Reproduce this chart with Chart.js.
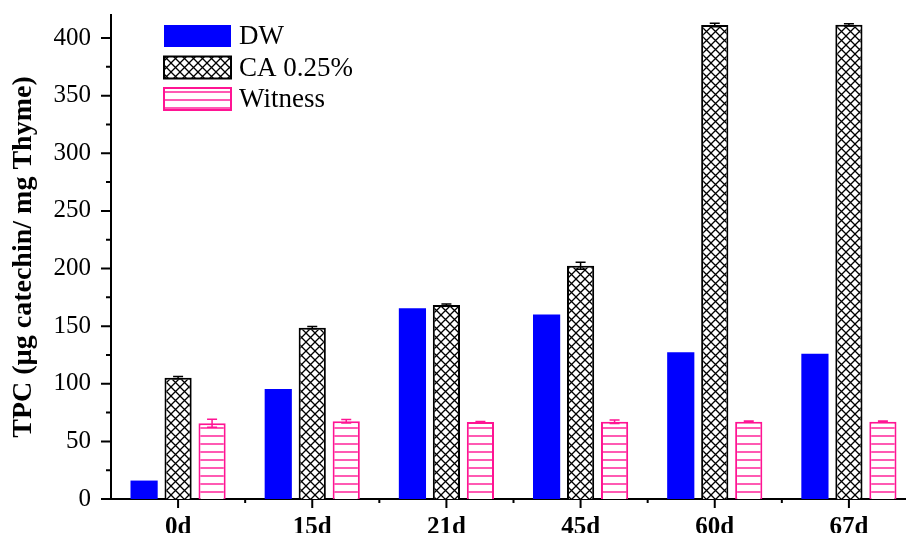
<!DOCTYPE html>
<html>
<head>
<meta charset="utf-8">
<script src="https://cdn.jsdelivr.net/npm/chart.js@4.4.0/dist/chart.umd.min.js"></script>
<style>
    html, body { margin: 0; padding: 0; background: #fff; overflow: hidden; }
    #wrap { position: absolute; left: 0; top: 0; width: 930px; height: 533px; }
</style>
</head>
<body>
<div id="wrap"><canvas id="chart"></canvas></div>
<script>
var categories = ['0d', '15d', '21d', '45d', '60d', '67d'];
var dwValues = [16, 95.4, 165.5, 160.2, 127.3, 126.1];
var caValues = [105.3, 148.7, 168.3, 202.4, 411.3, 411.5];
var caErrors = [1, 1, 1, 3, 1.5, 1];
var witnessValues = [65.7, 67.4, 66.8, 67.1, 67.1, 67.1];
var witnessErrors = [3.5, 1.5, 0.5, 1.5, 0.5, 0.5];
var yTicks = [0, 50, 100, 150, 200, 250, 300, 350, 400];

var SERIF = "'Liberation Serif', 'Times New Roman', serif";
var PINK = '#ff1493';

function crossPattern() {
    var c = document.createElement('canvas');
    c.width = 9;
    c.height = 9;
    var g = c.getContext('2d');
    g.fillStyle = '#fff';
    g.fillRect(0, 0, 9, 9);
    g.strokeStyle = '#000';
    g.lineWidth = 1.3;
    g.beginPath();
    g.moveTo(0, 0); g.lineTo(9, 9);
    g.moveTo(9, 0); g.lineTo(0, 9);
    g.stroke();
    return g.createPattern(c, 'repeat');
}

function stripePattern() {
    var c = document.createElement('canvas');
    c.width = 8;
    c.height = 8;
    var g = c.getContext('2d');
    g.fillStyle = '#fff';
    g.fillRect(0, 0, 8, 8);
    g.strokeStyle = PINK;
    g.lineWidth = 1.4;
    g.beginPath();
    g.moveTo(0, 4); g.lineTo(8, 4);
    g.stroke();
    return g.createPattern(c, 'repeat');
}

// error bars from the errors arrays, through the y scale
var errorBars = {
    id: 'errorBars',
    afterDatasetsDraw: function (chart) {
        var ctx = chart.ctx;
        var y = chart.scales.y;
        chart.data.datasets.forEach(function (ds, i) {
            if (!ds.errors) {
                return;
            }
            var meta = chart.getDatasetMeta(i);
            ctx.save();
            ctx.strokeStyle = ds.borderColor;
            ctx.lineWidth = 1.5;
            meta.data.forEach(function (bar, j) {
                var v = ds.data[j];
                var e = ds.errors[j];
                var top = y.getPixelForValue(v + e);
                var bot = y.getPixelForValue(v - e);
                ctx.beginPath();
                ctx.moveTo(bar.x, top); ctx.lineTo(bar.x, bot);
                ctx.moveTo(bar.x - 5, top); ctx.lineTo(bar.x + 5, top);
                ctx.moveTo(bar.x - 5, bot); ctx.lineTo(bar.x + 5, bot);
                ctx.stroke();
            });
            ctx.restore();
        });
    }
};

// outward tick marks, major and minor
var tickMarks = {
    id: 'tickMarks',
    afterDraw: function (chart) {
        var ctx = chart.ctx;
        var x = chart.scales.x;
        var y = chart.scales.y;
        var area = chart.chartArea;
        ctx.save();
        ctx.strokeStyle = '#000';
        ctx.lineWidth = 2;
        ctx.beginPath();
        yTicks.forEach(function (v) {
            var p = y.getPixelForValue(v);
            ctx.moveTo(area.left - 10, p); ctx.lineTo(area.left, p);
            if (v + 25 <= y.max) {
                var q = y.getPixelForValue(v + 25);
                ctx.moveTo(area.left - 5, q); ctx.lineTo(area.left, q);
            }
        });
        var step = (area.right - area.left) / categories.length;
        categories.forEach(function (c, i) {
            var p = x.getPixelForValue(i);
            ctx.moveTo(p, area.bottom); ctx.lineTo(p, area.bottom + 9);
            if (i > 0) {
                ctx.moveTo(area.left + step * i, area.bottom);
                ctx.lineTo(area.left + step * i, area.bottom + 4);
            }
        });
        ctx.stroke();
        ctx.restore();
    }
};

// legend inside the plot, top-left
var insideLegend = {
    id: 'insideLegend',
    afterDraw: function (chart) {
        var ctx = chart.ctx;
        ctx.save();
        ctx.font = '27px ' + SERIF;
        ctx.textBaseline = 'middle';
        chart.data.datasets.forEach(function (ds, i) {
            var top = 25 + i * 31.5;
            ctx.fillStyle = ds.backgroundColor;
            ctx.fillRect(164, top, 67, 22);
            if (ds.borderWidth) {
                ctx.strokeStyle = ds.borderColor;
                ctx.lineWidth = 2;
                ctx.strokeRect(164, top, 67, 22);
            }
            ctx.fillStyle = '#000';
            ctx.fillText(ds.label, 239, top + 12);
        });
        ctx.restore();
    }
};

var ctx = document.getElementById('chart').getContext('2d');
new Chart(ctx, {
    type: 'bar',
    data: {
        labels: categories,
        datasets: [
            {
                label: 'DW',
                data: dwValues,
                backgroundColor: '#0000ff',
                borderColor: '#0000ff',
                borderWidth: 0
            },
            {
                label: 'CA 0.25%',
                data: caValues,
                errors: caErrors,
                backgroundColor: crossPattern(),
                borderColor: '#000',
                borderWidth: 2
            },
            {
                label: 'Witness',
                data: witnessValues,
                errors: witnessErrors,
                backgroundColor: stripePattern(),
                borderColor: PINK,
                borderWidth: 2
            }
        ]
    },
    options: {
        responsive: true,
        maintainAspectRatio: false,
        animation: false,
        layout: { padding: { top: 15, right: 14, left: 0, bottom: 0 } },
        datasets: {
            bar: { categoryPercentage: 0.76, barPercentage: 0.8 }
        },
        plugins: {
            legend: { display: false },
            tooltip: { enabled: false }
        },
        scales: {
            x: {
                grid: { display: false },
                border: { display: true, color: '#000', width: 2 },
                ticks: {
                    color: '#000',
                    padding: 6,
                    maxRotation: 0,
                    font: { family: SERIF, size: 25, weight: 'bold' }
                },
                afterFit: function (scale) {
                    scale.height = 34;
                    scale.paddingLeft = 0;
                    scale.paddingRight = 0;
                }
            },
            y: {
                min: 0,
                max: 420,
                grid: { display: false },
                border: { display: true, color: '#000', width: 2 },
                afterBuildTicks: function (scale) {
                    scale.ticks = yTicks.map(function (v) { return { value: v }; });
                },
                ticks: {
                    color: '#000',
                    padding: 12,
                    font: { family: SERIF, size: 25 }
                },
                title: {
                    display: true,
                    text: 'TPC (µg catechin/ mg Thyme)',
                    color: '#000',
                    padding: { top: 7, bottom: 0 },
                    font: { family: SERIF, size: 28, weight: 'bold' }
                },
                afterFit: function (scale) {
                    scale.width = 111;
                    scale.paddingTop = 0;
                    scale.paddingBottom = 0;
                }
            }
        }
    },
    plugins: [errorBars, tickMarks, insideLegend]
});
</script>
</body>
</html>
